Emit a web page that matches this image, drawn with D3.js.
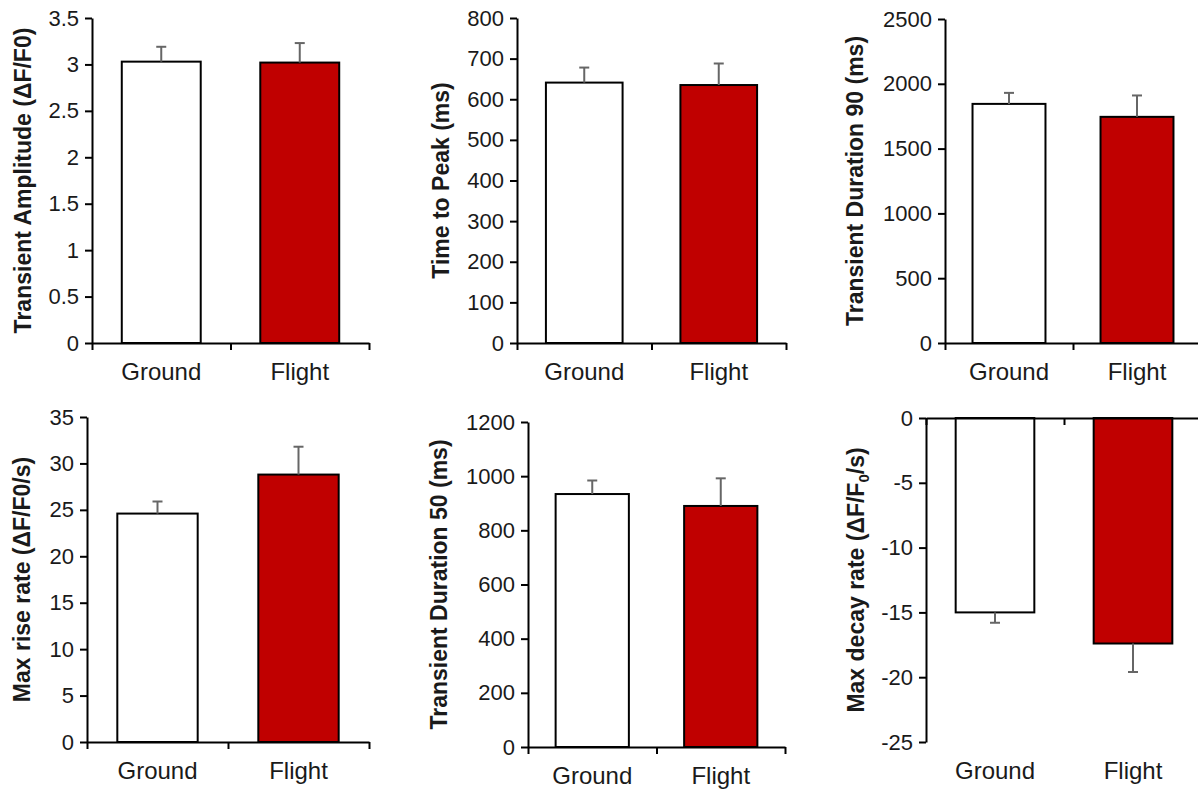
<!DOCTYPE html>
<html>
<head>
<meta charset="utf-8">
<script src="https://cdn.jsdelivr.net/npm/d3@7"></script>
<style>
  body { margin: 0; background: #fff; }
  svg { display: block; }
  text { font-family: "Liberation Sans", Arial, sans-serif; fill: #1a1a1a; }
</style>
</head>
<body>
<svg class="container" width="1198" height="789"></svg>
<script>
// data
let categories = ["Ground", "Flight"];

let amplitudeMean = [3.03, 3.02];
let amplitudeErr = [0.16, 0.21];

let peakMean = [641, 635];
let peakErr = [37, 53];

let dur90Mean = [1845, 1745];
let dur90Err = [85, 165];

let riseMean = [24.6, 28.8];
let riseErr = [1.3, 3.0];

let dur50Mean = [934, 890];
let dur50Err = [50, 102];

let decayMean = [-15.0, -17.4];
let decayErr = [0.8, 2.2];

let amplitudeTicks = [0, 0.5, 1, 1.5, 2, 2.5, 3, 3.5];
let peakTicks = [0, 100, 200, 300, 400, 500, 600, 700, 800];
let dur90Ticks = [0, 500, 1000, 1500, 2000, 2500];
let riseTicks = [0, 5, 10, 15, 20, 25, 30, 35];
let dur50Ticks = [0, 200, 400, 600, 800, 1000, 1200];
let decayTicks = [-25, -20, -15, -10, -5, 0];

let barColors = ["#ffffff", "#c00000"];

// layout of each panel (pixels); titleX = title centre relative to the y axis
let panels = [
    { left: 92, top: 18, bottom: 343, width: 277, titleX: -69, mean: amplitudeMean, err: amplitudeErr, ticks: amplitudeTicks, title: ["Transient Amplitude (ΔF/F0)"] },
    { left: 517, top: 18, bottom: 343, width: 269, titleX: -76, mean: peakMean, err: peakErr, ticks: peakTicks, title: ["Time to Peak (ms)"] },
    { left: 945, top: 19, bottom: 343, width: 256, titleX: -90, mean: dur90Mean, err: dur90Err, ticks: dur90Ticks, title: ["Transient Duration 90 (ms)"] },
    { left: 87, top: 417, bottom: 742, width: 282, titleX: -65, mean: riseMean, err: riseErr, ticks: riseTicks, title: ["Max rise rate (ΔF/F0/s)"] },
    { left: 528, top: 422, bottom: 747, width: 257, titleX: -89, mean: dur50Mean, err: dur50Err, ticks: dur50Ticks, title: ["Transient Duration 50 (ms)"] },
    { left: 926, top: 418, bottom: 742, width: 276, titleX: -70, mean: decayMean, err: decayErr, ticks: decayTicks, title: ["Max decay rate (ΔF/F", "0", "/s)"] }
];

let svg = d3.select(".container");
panels.forEach(drawPanel);

function drawPanel(p) {
    let g = svg.append("g");
    let lo = d3.min(p.ticks), hi = d3.max(p.ticks);
    let y = d3.scaleLinear().domain([lo, hi]).range([p.bottom, p.top]);
    let x = d3.scaleBand().domain(categories).range([p.left, p.left + p.width]);
    let barW = x.bandwidth() * 0.57;
    let zeroY = y(0);

    // bars
    g.selectAll("rect.bar")
        .data(p.mean)
        .enter()
        .append("rect")
        .attr("class", "bar")
        .attr("x", (d, i) => x(categories[i]) + (x.bandwidth() - barW) / 2)
        .attr("y", d => Math.min(y(d), zeroY))
        .attr("width", barW)
        .attr("height", d => Math.abs(y(d) - zeroY))
        .attr("fill", (d, i) => barColors[i])
        .attr("stroke", "#000")
        .attr("stroke-width", 2);

    // error bars, only the outward half
    let errs = p.mean.map((m, i) => ({ m: m, e: m < 0 ? m - p.err[i] : m + p.err[i], cx: x(categories[i]) + x.bandwidth() / 2 }));
    g.selectAll("line.err")
        .data(errs)
        .enter()
        .append("line")
        .attr("x1", d => d.cx).attr("x2", d => d.cx)
        .attr("y1", d => y(d.m)).attr("y2", d => y(d.e))
        .style("stroke", "#666").style("stroke-width", 2);
    g.selectAll("line.cap")
        .data(errs)
        .enter()
        .append("line")
        .attr("x1", d => d.cx - 5).attr("x2", d => d.cx + 5)
        .attr("y1", d => y(d.e)).attr("y2", d => y(d.e))
        .style("stroke", "#666").style("stroke-width", 2);

    // y axis
    let yAxis = g.append("g")
        .attr("transform", `translate(${p.left},0)`)
        .call(d3.axisLeft(y).tickValues(p.ticks).tickSize(7).tickSizeOuter(0).tickPadding(6).tickFormat(d => String(d)));
    yAxis.selectAll("text").style("font-size", "22px").attr("fill", "#1a1a1a");
    yAxis.select(".domain").attr("stroke", "#000").attr("stroke-width", 2);
    yAxis.selectAll(".tick line").attr("stroke", "#000").attr("stroke-width", 2);

    // x axis at zero with ticks on the band edges
    let edge = d3.scaleLinear().domain([0, categories.length]).range([p.left, p.left + p.width]);
    let xAxis = g.append("g")
        .attr("transform", `translate(0,${zeroY})`)
        .call(d3.axisBottom(edge).tickValues(d3.range(categories.length + 1)).tickSize(7).tickSizeOuter(0).tickFormat(""));
    xAxis.select(".domain").attr("stroke", "#000").attr("stroke-width", 2);
    xAxis.selectAll(".tick line").attr("stroke", "#000").attr("stroke-width", 2);

    // category labels under the plot
    g.selectAll("text.cat")
        .data(categories)
        .enter()
        .append("text")
        .attr("class", "cat")
        .attr("x", d => x(d) + x.bandwidth() / 2)
        .attr("y", p.bottom + 37)
        .attr("text-anchor", "middle")
        .style("font-size", "24px")
        .text(d => d);

    // rotated y title
    let tx = p.left + p.titleX;
    let ty = (p.top + p.bottom) / 2;
    let title = g.append("text")
        .attr("transform", `translate(${tx},${ty}) rotate(-90)`)
        .attr("text-anchor", "middle")
        .attr("dy", "0.35em")
        .style("font-size", "23px")
        .style("font-weight", "bold");
    title.append("tspan").text(p.title[0]);
    if (p.title.length > 1) {
        title.append("tspan").attr("dy", "5px").style("font-size", "15px").text(p.title[1]);
        title.append("tspan").attr("dy", "-5px").text(p.title[2]);
    }
}
</script>
</body>
</html>
